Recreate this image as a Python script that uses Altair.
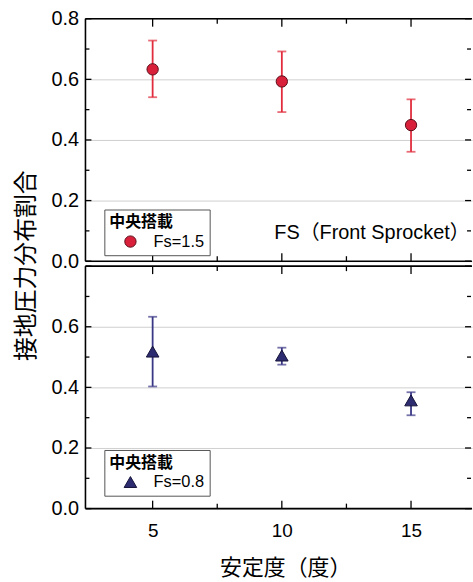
import altair as alt
import pandas as pd

# ---- data ----
x_vals = [5, 10, 15]
fs15_mean = [0.633, 0.593, 0.449]
fs15_hi = [0.728, 0.692, 0.534]
fs15_lo = [0.541, 0.492, 0.361]
fs08_mean = [0.518, 0.505, 0.357]
fs08_hi = [0.633, 0.531, 0.384]
fs08_lo = [0.403, 0.475, 0.308]

y_major = [0.0, 0.2, 0.4, 0.6, 0.8]
y_minor = [0.1, 0.3, 0.5, 0.7]
x_major = [5, 10, 15]
x_minor = [7.5, 12.5]
top_y_labels = [0.0, 0.2, 0.4, 0.6, 0.8]
bottom_y_labels = [0.0, 0.2, 0.4, 0.6]
x_labels = [5, 10, 15]

legend_title = "中央搭載"
top_series = "Fs=1.5"
bottom_series = "Fs=0.8"
annotation = "FS（Front Sprocket）"
y_title = "接地圧力分布割合"
x_title = "安定度（度）"

CJK = "Noto Sans CJK JP"
LAT = "Liberation Sans"
W, H = 389, 244
RT = 388  # where the right-hand inner ticks sit (frame itself is cropped)

xscale = alt.Scale(domain=[2.4, 17.36], nice=False, zero=False)
yscale = alt.Scale(domain=[0, 0.8], nice=False, zero=False)


def frame_and_ticks(xaxis, yaxis):
    ym = pd.DataFrame({"v": y_major})
    yn = pd.DataFrame({"v": y_minor})
    xm = pd.DataFrame({"v": x_major})
    xn = pd.DataFrame({"v": x_minor})
    one = alt.Chart(pd.DataFrame({"k": [0]}))
    layers = [
        one.mark_rule(color="black", strokeWidth=1.6).encode(
            x=alt.value(0), y=alt.value(0), y2=alt.value(H)),
        one.mark_rule(color="black", strokeWidth=1.6).encode(
            x=alt.value(0), x2=alt.value(W), y=alt.value(0)),
        one.mark_rule(color="black", strokeWidth=1.6).encode(
            x=alt.value(0), x2=alt.value(W), y=alt.value(H)),
    ]
    for df, ln in ((ym, 6), (yn, 4)):
        c = alt.Chart(df)
        layers.append(c.mark_rule(color="black", strokeWidth=1.3).encode(
            y=alt.Y("v:Q", scale=yscale, axis=yaxis), x=alt.value(0), x2=alt.value(ln)))
        layers.append(c.mark_rule(color="black", strokeWidth=1.3).encode(
            y=alt.Y("v:Q", scale=yscale, axis=yaxis), x=alt.value(RT), x2=alt.value(RT - ln)))
    for df, ln in ((xm, 8), (xn, 5)):
        c = alt.Chart(df)
        layers.append(c.mark_rule(color="black", strokeWidth=1.3).encode(
            x=alt.X("v:Q", scale=xscale, axis=xaxis), y=alt.value(H), y2=alt.value(H - ln)))
        layers.append(c.mark_rule(color="black", strokeWidth=1.3).encode(
            x=alt.X("v:Q", scale=xscale, axis=xaxis), y=alt.value(0), y2=alt.value(ln)))
    return layers


def panel(mean, lo, hi, series, fill, stroke, ecolor, shape, symsize, yvals,
          show_x, legend_xy, top):
    df = pd.DataFrame({"x": x_vals, "mean": mean, "lo": lo, "hi": hi,
                       "series": [series] * len(x_vals)})
    if show_x:
        xaxis = alt.Axis(values=x_labels, labelFont=LAT, labelFontSize=19,
                         labelColor="black", labelPadding=13, grid=False,
                         title=x_title, titleFont=CJK, titleFontSize=22,
                         titleFontWeight="normal", titleColor="black",
                         titlePadding=17, titleX=201)
    else:
        xaxis = alt.Axis(labels=False, title=None, grid=False)
    yargs = dict(values=yvals, labelFont=LAT, labelFontSize=20, labelColor="black",
                 labelPadding=7, format=".1f", grid=True, gridColor="#c4c4c4",
                 gridWidth=0.8)
    if top:
        yaxis = alt.Axis(title=y_title, titleFont=CJK, titleFontSize=24,
                         titleFontWeight="normal", titleColor="black",
                         titleAngle=270, titleX=-59, titleY=248,
                         titleAlign="center", titleBaseline="middle", **yargs)
    else:
        yaxis = alt.Axis(title=None, **yargs)

    base = alt.Chart(df)
    err = base.mark_rule(color=ecolor, strokeWidth=1.8).encode(
        x=alt.X("x:Q", scale=xscale, axis=xaxis),
        y=alt.Y("lo:Q", scale=yscale, axis=yaxis),
        y2="hi:Q")
    cap_hi = base.mark_tick(color=ecolor, thickness=1.8, size=9,
                            orient="horizontal").encode(
        x=alt.X("x:Q", scale=xscale, axis=xaxis),
        y=alt.Y("hi:Q", scale=yscale, axis=yaxis))
    cap_lo = base.mark_tick(color=ecolor, thickness=1.8, size=9,
                            orient="horizontal").encode(
        x=alt.X("x:Q", scale=xscale, axis=xaxis),
        y=alt.Y("lo:Q", scale=yscale, axis=yaxis))
    pts = base.mark_point(filled=True, shape=shape, size=symsize, stroke=stroke,
                          strokeWidth=1, opacity=1).encode(
        x=alt.X("x:Q", scale=xscale, axis=xaxis),
        y=alt.Y("mean:Q", scale=yscale, axis=yaxis),
        color=alt.Color("series:N",
                        scale=alt.Scale(domain=[series], range=[fill]),
                        legend=alt.Legend(
                            title=legend_title, titleFont=CJK, titleFontSize=16,
                            titleFontWeight="bold", titleColor="black",
                            titlePadding=3, labelFont=LAT, labelFontSize=16.5,
                            labelColor="black", symbolType=shape,
                            symbolSize=symsize, symbolStrokeColor=stroke,
                            symbolStrokeWidth=1, symbolOffset=13, labelOffset=15,
                            padding=5, strokeColor="#555555", fillColor="white",
                            orient="none", legendX=legend_xy[0],
                            legendY=legend_xy[1])))
    layers = [err, cap_hi, cap_lo, pts] + frame_and_ticks(xaxis, yaxis)
    if top:
        txt = alt.Chart(pd.DataFrame({"t": [annotation]})).mark_text(
            font=LAT + ", " + CJK, fontSize=20, align="left",
            baseline="alphabetic", color="black").encode(
            text="t:N", x=alt.value(190), y=alt.value(222))
        layers.append(txt)
    return alt.layer(*layers).properties(width=W, height=H)


top = panel(fs15_mean, fs15_lo, fs15_hi, top_series, "#d9203a", "#5c0c18",
            "#e02c3c", "circle", 130, top_y_labels, False, (19, 192), True)
bottom = panel(fs08_mean, fs08_lo, fs08_hi, bottom_series, "#2e2c70", "#141238",
               "#3a3886", "triangle-up", 160, bottom_y_labels, True, (19, 185),
               False)

chart = alt.vconcat(top, bottom, spacing=5, bounds="flush").resolve_scale(
    color="independent").resolve_legend(color="independent").properties(
    padding={"left": 15, "top": 7, "right": 0, "bottom": 0}
).configure_view(stroke=None).configure_axis(domain=False, ticks=False)

chart.save("out.html", embed_options={"renderer": "svg", "actions": False})
